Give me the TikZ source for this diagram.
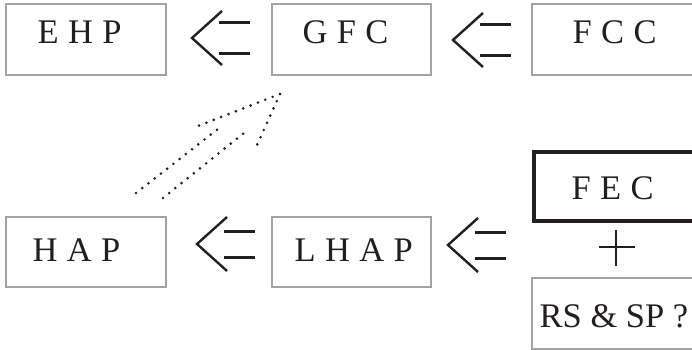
\documentclass[tikz,border=0pt]{standalone}
\usepackage{fontspec}
\setmainfont{Liberation Serif}
\newfontfamily\spacedserif[LetterSpace=27]{Liberation Serif}
\definecolor{boxgray}{HTML}{A3A3A3}
\definecolor{ink}{HTML}{231F20}
\tikzset{
  box/.style={draw=boxgray, line width=1.2pt, rectangle, inner sep=0pt},
  heavybox/.style={draw=ink, line width=3.4pt, rectangle, inner sep=0pt},
  label text/.style={anchor=base west, inner sep=0pt, text=ink,
    font=\spacedserif\fontsize{34.5}{40}\selectfont},
  plain text/.style={anchor=base west, inner sep=0pt, text=ink,
    font=\fontsize{34.5}{40}\selectfont},
  dotline/.style={draw=ink, line width=2.9pt, line cap=round,
    dash pattern=on 0pt off 7.9pt},
  pics/implies/.style={code={
    \draw[ink, line width=2.4pt] (30,-27) -- (0,0) -- (30,27);
    \draw[ink, line width=3pt] (27,-#1) -- (58,-#1) (27,#1) -- (58,#1);
  }}
}
\begin{document}
\begin{tikzpicture}[x=1pt, y=-1pt]
  \useasboundingbox (0,0) rectangle (692,350);
  \clip (0,0) rectangle (692,350);

  % top row
  \node[box, minimum width=160pt, minimum height=71pt] (ehp) at (86,39.5) {};
  \node[box, minimum width=159pt, minimum height=71pt] (gfc) at (351.5,39.5) {};
  \node[box, minimum width=168pt, minimum height=71pt] (fcc) at (616,39.5) {};
  \node[label text] (ehpt) at (37.5,44) {EHP};
  \node[label text] (gfct) at (302.5,44) {GFC};
  \node[label text] (fcct) at (572.5,44) {FCC};

  % bottom row
  \node[box, minimum width=160pt, minimum height=70pt] (hap) at (86,252) {};
  \node[box, minimum width=159pt, minimum height=70pt] (lhap) at (351.5,252) {};
  \node[label text] (hapt) at (32.5,261.5) {HAP};
  \node[label text] (lhapt) at (294.5,261) {LHAP};

  % combined premise on the right
  \node[heavybox, minimum width=166pt, minimum height=69pt] (fec) at (617,186.5) {};
  \node[label text] (fect) at (571.5,199) {FEC};
  \node[box, minimum width=168pt, minimum height=71pt] (rssp) at (616,313.5) {};
  \node[plain text] (rsspt) at (539.5,327) {RS \& SP ?};
  \draw[ink, line width=2.5pt] (599,247) -- (635,247) (616,230) -- (616,266);

  % implication arrows between the boxes
  \pic at (192,38) {implies=15.5};
  \pic at (453,40) {implies=15.5};
  \pic at (197,244) {implies=13};
  \pic at (448,245) {implies=13};

  % dotted hollow arrow from HAP up to GFC
  \coordinate (tip) at (280,94);
  \coordinate (barbL) at (198,126);
  \coordinate (barbR) at (257,145);
  \coordinate (shaftLa) at (136,193);
  \coordinate (shaftLb) at (218,129);
  \coordinate (shaftRa) at (163,198);
  \coordinate (shaftRb) at (244,133);
  \draw[dotline] (tip) -- (barbL);
  \draw[dotline] (tip) -- (barbR);
  \draw[dotline] (shaftLa) -- (shaftLb);
  \draw[dotline] (shaftRa) -- (shaftRb);
\end{tikzpicture}
\end{document}
